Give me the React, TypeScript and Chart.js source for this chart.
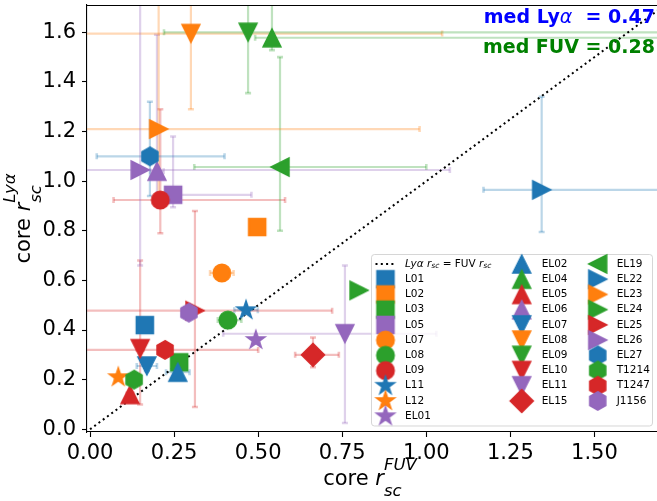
import React, { useEffect, useRef } from 'react';
import { Chart, registerables } from 'chart.js';

Chart.register(...registerables);

// ---------------- data ----------------
const names = ['L01', 'L02', 'L03', 'L05', 'L07', 'L08', 'L09', 'L11', 'L12', 'EL01', 'EL02', 'EL04', 'EL05', 'EL06', 'EL07', 'EL08', 'EL09', 'EL10', 'EL11', 'EL15', 'EL19', 'EL22', 'EL23', 'EL24', 'EL25', 'EL26', 'EL27', 'T1214', 'T1247', 'J1156'];
const colorKeys = ['blue', 'orange', 'green', 'purple', 'orange', 'green', 'red', 'blue', 'orange', 'purple', 'blue', 'green', 'red', 'purple', 'blue', 'orange', 'green', 'red', 'purple', 'red', 'green', 'blue', 'orange', 'green', 'red', 'purple', 'blue', 'green', 'red', 'purple'];
const shapes = ['square', 'square', 'square', 'square', 'circle', 'circle', 'circle', 'star', 'star', 'star', 'up', 'up', 'up', 'up', 'down', 'down', 'down', 'down', 'down', 'diamond', 'left', 'right', 'right', 'right', 'right', 'right', 'hexagon', 'hexagon', 'hexagon', 'hexagon'];
const fuv = [0.163, 0.497, 0.265, 0.247, 0.392, 0.41, 0.209, 0.464, 0.084, 0.493, 0.261, 0.541, 0.119, 0.199, 0.169, 0.30, 0.47, 0.149, 0.758, 0.663, 0.565, 1.343, 0.204, 0.80, 0.312, 0.149, 0.178, 0.131, 0.223, 0.294];
const lya = [0.42, 0.815, 0.27, 0.945, 0.63, 0.44, 0.924, 0.48, 0.21, 0.36, 0.23, 1.578, 0.14, 1.04, 0.255, 1.595, 1.60, 0.325, 0.385, 0.30, 1.057, 0.965, 1.21, 0.56, 0.478, 1.045, 1.10, 0.20, 0.32, 0.47];
const fuvErrLo = [0.01, 0.01, 0.02, 0.05, 0.035, 0.03, 0.139, 0.035, 0.01, 0.01, 0.035, 0.05, 0.01, 0.02, 0.03, 0.40, 0.25, 0.01, 0.362, 0.053, 0.255, 0.173, 0.30, 0.01, 0.35, 0.30, 0.158, 0.01, 0.30, 0.01];
const fuvErrHi = [0.01, 0.01, 0.02, 0.233, 0.035, 0.04, 0.371, 0.035, 0.01, 0.01, 0.035, 1.5, 0.01, 0.02, 0.03, 0.747, 1.5, 0.01, 0.272, 0.077, 0.435, 0.5, 0.776, 0.01, 0.408, 0.921, 0.222, 0.01, 0.277, 0.01];
const lyaErrLo = [0.01, 0.01, 0.02, 0.05, 0.01, 0.015, 0.134, 0.01, 0.01, 0.01, 0.02, 0.05, 0.01, 0.1, 0.02, 0.305, 0.245, 0.225, 0.36, 0.05, 0.257, 0.17, 0.26, 0.01, 0.388, 0.385, 0.16, 0.01, 0.01, 0.01];
const lyaErrHi = [0.01, 0.01, 0.02, 0.235, 0.01, 0.015, 0.366, 0.01, 0.01, 0.01, 0.02, 0.5, 0.01, 0.55, 0.02, 0.5, 0.5, 0.355, 0.275, 0.07, 0.443, 0.375, 0.6, 0.01, 0.402, 0.8, 0.22, 0.01, 0.01, 0.01];
const xTicks = [0, 0.25, 0.5, 0.75, 1.0, 1.25, 1.5];
const yTicks = [0, 0.2, 0.4, 0.6, 0.8, 1.0, 1.2, 1.4, 1.6];
const oneToOne = [0, 2];
const medLya = '0.47';
const medFuv = '0.28';

const palette: Record<string, string> = {
  blue: '#1f77b4',
  orange: '#ff7f0e',
  green: '#2ca02c',
  red: '#d62728',
  purple: '#9467bd',
};
const rgba = (hex: string, a: number) => {
  const r = parseInt(hex.slice(1, 3), 16);
  const g = parseInt(hex.slice(3, 5), 16);
  const b = parseInt(hex.slice(5, 7), 16);
  return `rgba(${r},${g},${b},${a})`;
};

const FONT = "'DejaVu Sans', 'Liberation Sans', sans-serif";
const MS = 32;

function makeMarker(shape: string, color: string): HTMLCanvasElement {
  const c = document.createElement('canvas');
  c.width = MS;
  c.height = MS;
  const g = c.getContext('2d')!;
  g.translate(MS / 2, MS / 2);
  g.beginPath();
  const h = 9.0;
  if (shape === 'square') {
    const s = 8.6;
    g.rect(-s, -s, 2 * s, 2 * s);
  } else if (shape === 'circle') {
    g.arc(0, 0, 8.8, 0, Math.PI * 2);
  } else if (shape === 'up') {
    g.moveTo(0, -h); g.lineTo(-h, h); g.lineTo(h, h); g.closePath();
  } else if (shape === 'down') {
    g.moveTo(0, h); g.lineTo(-h, -h); g.lineTo(h, -h); g.closePath();
  } else if (shape === 'left') {
    g.moveTo(-h, 0); g.lineTo(h, -h); g.lineTo(h, h); g.closePath();
  } else if (shape === 'right') {
    g.moveTo(h, 0); g.lineTo(-h, -h); g.lineTo(-h, h); g.closePath();
  } else if (shape === 'diamond') {
    const d = 11.6;
    g.moveTo(0, -d); g.lineTo(d, 0); g.lineTo(0, d); g.lineTo(-d, 0); g.closePath();
  } else if (shape === 'star') {
    const R = 9.6, r = R * 0.381966;
    for (let k = 0; k < 10; k++) {
      const rad = k % 2 === 0 ? R : r;
      const a = -Math.PI / 2 + (k * Math.PI) / 5;
      const px = rad * Math.cos(a), py = rad * Math.sin(a);
      if (k === 0) g.moveTo(px, py); else g.lineTo(px, py);
    }
    g.closePath();
  } else if (shape === 'hexagon') {
    const R = 9.3;
    for (let k = 0; k < 6; k++) {
      const a = -Math.PI / 2 + (k * Math.PI) / 3;
      const px = R * Math.cos(a), py = R * Math.sin(a);
      if (k === 0) g.moveTo(px, py); else g.lineTo(px, py);
    }
    g.closePath();
  }
  g.fillStyle = color;
  g.fill();
  g.lineWidth = 1.4;
  g.strokeStyle = color;
  g.stroke();
  return c;
}

type Part = { t: string; f: string; dy?: number; script?: { sup: string; sub: string; f: string; supDy: number; subDy: number } };

function drawRich(ctx: CanvasRenderingContext2D, parts: Part[], cx: number, baseY: number) {
  let total = 0;
  const widths: number[] = [];
  parts.forEach((p) => {
    if (p.script) {
      ctx.font = p.script.f;
      const w = Math.max(ctx.measureText(p.script.sup).width, ctx.measureText(p.script.sub).width);
      widths.push(w);
      total += w;
    } else {
      ctx.font = p.f;
      const w = ctx.measureText(p.t).width;
      widths.push(w);
      total += w;
    }
  });
  let x = cx - total / 2;
  ctx.textAlign = 'left';
  ctx.textBaseline = 'alphabetic';
  parts.forEach((p, i) => {
    if (p.script) {
      ctx.font = p.script.f;
      ctx.fillText(p.script.sup, x, baseY + p.script.supDy);
      ctx.fillText(p.script.sub, x, baseY + p.script.subDy);
    } else {
      ctx.font = p.f;
      ctx.fillText(p.t, x, baseY + (p.dy || 0));
    }
    x += widths[i];
  });
}

function drawLeft(ctx: CanvasRenderingContext2D, parts: Part[], x0: number, midY: number) {
  let x = x0;
  ctx.textAlign = 'left';
  ctx.textBaseline = 'middle';
  parts.forEach((p) => {
    if (p.script) {
      ctx.font = p.script.f;
      const w = Math.max(ctx.measureText(p.script.sup).width, ctx.measureText(p.script.sub).width);
      if (p.script.sup) ctx.fillText(p.script.sup, x, midY + p.script.supDy);
      if (p.script.sub) ctx.fillText(p.script.sub, x, midY + p.script.subDy);
      x += w;
    } else {
      ctx.font = p.f;
      ctx.fillText(p.t, x, midY + (p.dy || 0));
      x += ctx.measureText(p.t).width;
    }
  });
}

export default function App() {
  const ref = useRef<HTMLCanvasElement>(null);

  useEffect(() => {
    const canvas = ref.current!;
    const markers = names.map((_, i) => makeMarker(shapes[i], palette[colorKeys[i]]));
    const N = names.length;

    const pointSets = names.map((n, i) => ({
      type: 'scatter' as const,
      label: n,
      data: [{ x: fuv[i], y: lya[i] }],
      pointStyle: markers[i],
      pointRadius: 10,
      pointHoverRadius: 10,
      order: N - i,
    }));

    const diag = {
      type: 'line' as const,
      label: 'one-to-one',
      data: oneToOne.map((v) => ({ x: v, y: v })),
      borderColor: '#000',
      borderWidth: 2,
      borderDash: [2, 3.3],
      pointRadius: 0,
      fill: false,
      order: N + 5,
    };

    const errorBars = {
      id: 'errorBars',
      beforeDatasetsDraw(chart: any) {
        const { ctx, chartArea: a, scales } = chart;
        const xs = scales.x, ys = scales.y;
        ctx.save();
        ctx.beginPath();
        ctx.rect(a.left, a.top, a.right - a.left, a.bottom - a.top);
        ctx.clip();
        const cap = 3;
        for (let i = 0; i < N; i++) {
          const col = rgba(palette[colorKeys[i]], 0.3);
          ctx.strokeStyle = col;
          const px = xs.getPixelForValue(fuv[i]);
          const py = ys.getPixelForValue(lya[i]);
          const xl = xs.getPixelForValue(fuv[i] - fuvErrLo[i]);
          const xh = xs.getPixelForValue(fuv[i] + fuvErrHi[i]);
          const yl = ys.getPixelForValue(lya[i] - lyaErrLo[i]);
          const yh = ys.getPixelForValue(lya[i] + lyaErrHi[i]);
          ctx.lineWidth = 2.2;
          ctx.beginPath();
          ctx.moveTo(xl, py); ctx.lineTo(xh, py);
          ctx.moveTo(px, yl); ctx.lineTo(px, yh);
          ctx.stroke();
          ctx.lineWidth = 2.6;
          ctx.beginPath();
          ctx.moveTo(xl, py - cap); ctx.lineTo(xl, py + cap);
          ctx.moveTo(xh, py - cap); ctx.lineTo(xh, py + cap);
          ctx.moveTo(px - cap, yl); ctx.lineTo(px + cap, yl);
          ctx.moveTo(px - cap, yh); ctx.lineTo(px + cap, yh);
          ctx.stroke();
        }
        ctx.restore();
      },
    };

    const decorations = {
      id: 'decorations',
      afterDraw(chart: any) {
        const { ctx, chartArea: a } = chart;
        ctx.save();
        // top spine
        ctx.strokeStyle = '#000';
        ctx.lineWidth = 1.1;
        ctx.beginPath();
        ctx.moveTo(a.left, a.top + 0.5);
        ctx.lineTo(a.right, a.top + 0.5);
        ctx.stroke();

        // median texts
        ctx.textAlign = 'right';
        ctx.textBaseline = 'alphabetic';
        const rx = a.right - 2;
        const bold = `bold 19px ${FONT}`;
        ctx.fillStyle = '#0000ff';
        ctx.font = bold;
        const tail = '  = ' + medLya;
        const wTail = ctx.measureText(tail).width;
        ctx.fillText(tail, rx, a.top + 18);
        ctx.font = `italic 19px ${FONT}`;
        const wAlpha = ctx.measureText('α').width;
        ctx.fillText('α', rx - wTail, a.top + 18);
        ctx.font = bold;
        ctx.fillText('med Ly', rx - wTail - wAlpha, a.top + 18);
        ctx.fillStyle = '#008000';
        ctx.fillText('med FUV = ' + medFuv, rx, a.top + 48);

        // axis labels
        ctx.fillStyle = '#000';
        const lab = (sup: string): Part[] => [
          { t: 'core ', f: `21px ${FONT}` },
          { t: 'r', f: `italic 21px ${FONT}` },
          { t: '', f: '', script: { sup, sub: 'sc', f: `italic 16.5px ${FONT}`, supDy: -15, subDy: 11 } },
        ];
        drawRich(ctx, lab('FUV'), 370, 485);
        ctx.save();
        ctx.translate(30, (a.top + a.bottom) / 2);
        ctx.rotate(-Math.PI / 2);
        drawRich(ctx, lab('Lyα'), 0, 0);
        ctx.restore();

        // legend
        const L = { x: 371.5, y: 254.5, w: 281, h: 171.5 };
        ctx.beginPath();
        ctx.roundRect(L.x, L.y, L.w, L.h, 3);
        ctx.fillStyle = 'rgba(255,255,255,0.8)';
        ctx.fill();
        ctx.strokeStyle = 'rgba(204,204,204,0.8)';
        ctx.lineWidth = 1;
        ctx.stroke();

        const row0 = 264;
        const dyRow = 15.22;
        const colMarker = [385.5, 521.7, 597.7];
        const colText = [405, 541.7, 616.7];
        ctx.strokeStyle = '#000';
        ctx.lineWidth = 2;
        ctx.setLineDash([2, 3.3]);
        ctx.beginPath();
        ctx.moveTo(colMarker[0] - 10, row0);
        ctx.lineTo(colMarker[0] + 10, row0);
        ctx.stroke();
        ctx.setLineDash([]);
        ctx.fillStyle = '#000';
        const sFont = `italic 7.5px ${FONT}`;
        drawLeft(ctx, [
          { t: 'Lyα r', f: `italic 10.5px ${FONT}` },
          { t: '', f: '', script: { sup: '', sub: 'sc', f: sFont, supDy: 0, subDy: 2.5 } },
          { t: ' = FUV ', f: `10.5px ${FONT}` },
          { t: 'r', f: `italic 10.5px ${FONT}` },
          { t: '', f: '', script: { sup: '', sub: 'sc', f: sFont, supDy: 0, subDy: 2.5 } },
        ], colText[0], row0);

        for (let i = 0; i < N; i++) {
          let col: number, row: number;
          if (i < 10) { col = 0; row = i + 1; } else if (i < 20) { col = 1; row = i - 10; } else { col = 2; row = i - 20; }
          const cy = row0 + row * dyRow;
          ctx.drawImage(markers[i], colMarker[col] - MS / 2, cy - MS / 2);
          ctx.fillStyle = '#000';
          ctx.font = `10.5px ${FONT}`;
          ctx.textAlign = 'left';
          ctx.textBaseline = 'middle';
          ctx.fillText(names[i], colText[col], cy);
        }
        ctx.restore();
      },
    };

    const tickFont = { family: FONT, size: 21 };
    const chart = new Chart(canvas, {
      type: 'scatter',
      data: { datasets: [diag as any, ...pointSets] },
      options: {
        animation: false,
        responsive: false,
        devicePixelRatio: 1,
        events: [],
        layout: { autoPadding: false, padding: { top: 5, left: 0, right: 0, bottom: 0 } },
        plugins: { legend: { display: false }, tooltip: { enabled: false } },
        scales: {
          x: {
            type: 'linear',
            position: 'bottom',
            min: -0.009,
            max: 1.686,
            afterBuildTicks: (s: any) => { s.ticks = xTicks.map((v) => ({ value: v })); },
            afterFit: (s: any) => { s.height = 69; s.paddingLeft = 0; s.paddingRight = 0; },
            ticks: {
              font: tickFont,
              color: '#000',
              padding: 4,
              maxRotation: 0,
              autoSkip: false,
              callback: (v: any) => Number(v).toFixed(2),
            },
            grid: { drawOnChartArea: false, drawTicks: true, tickLength: 5, tickWidth: 1.1, tickColor: '#000' },
            border: { display: true, color: '#000', width: 1.1 },
          },
          y: {
            type: 'linear',
            position: 'left',
            min: -0.011,
            max: 1.71,
            afterBuildTicks: (s: any) => { s.ticks = yTicks.map((v) => ({ value: v })); },
            afterFit: (s: any) => { s.width = 87; s.paddingTop = 0; s.paddingBottom = 0; },
            ticks: {
              font: tickFont,
              color: '#000',
              padding: 6,
              autoSkip: false,
              callback: (v: any) => Number(v).toFixed(1),
            },
            grid: { drawOnChartArea: false, drawTicks: true, tickLength: 5, tickWidth: 1.1, tickColor: '#000' },
            border: { display: true, color: '#000', width: 1.1 },
          },
        },
      },
      plugins: [errorBars, decorations],
    });
    return () => chart.destroy();
  }, []);

  return (
    <div style={{ position: 'fixed', left: 0, top: 0, width: 657, height: 501, background: '#fff' }}>
      <canvas ref={ref} width={657} height={501} style={{ display: 'block', width: 657, height: 501 }} />
    </div>
  );
}
